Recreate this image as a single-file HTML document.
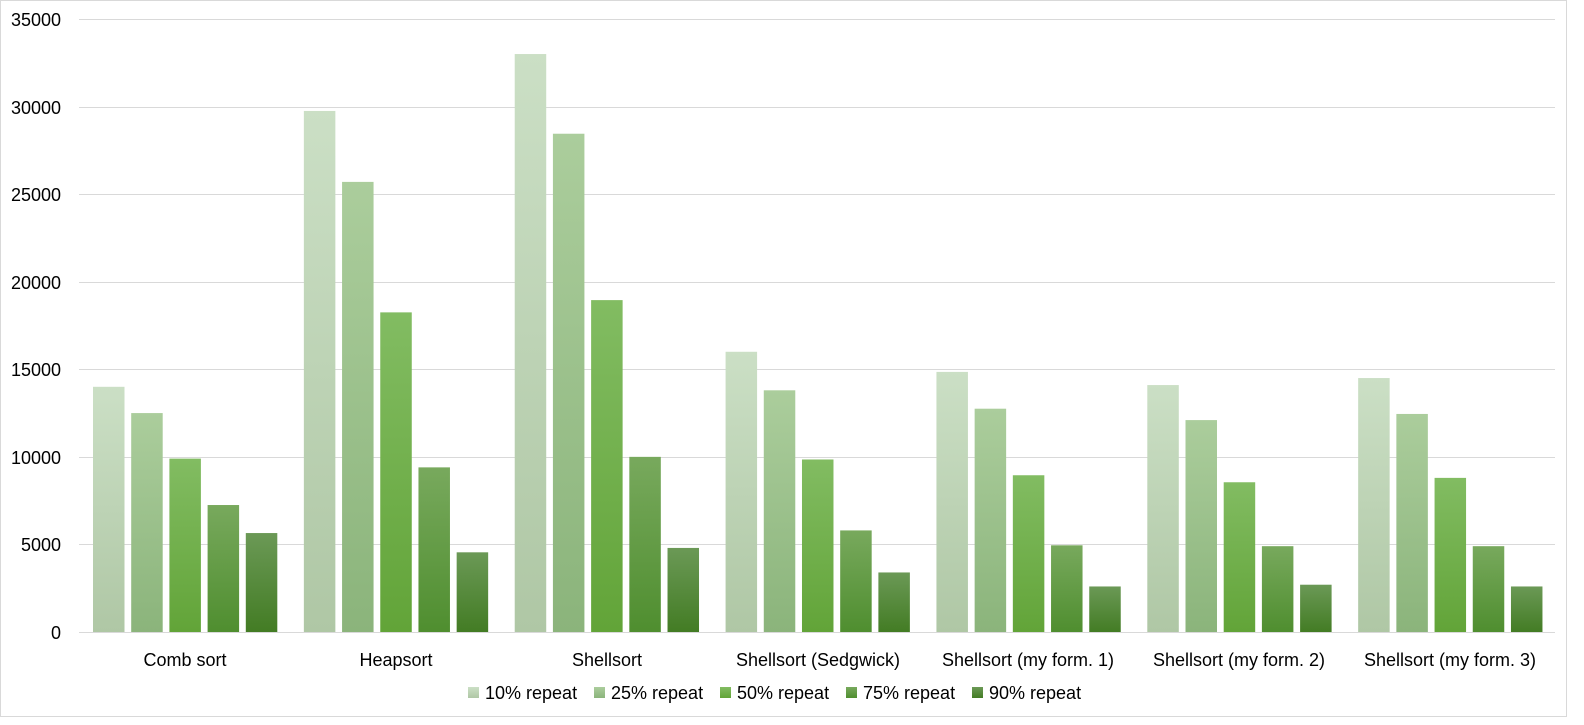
<!DOCTYPE html>
<html><head><meta charset="utf-8"><style>
html,body{margin:0;padding:0;background:#fff;overflow:hidden;}
svg{display:block;font-family:"Liberation Sans",sans-serif;}
</style></head><body>
<svg width="1584" height="725" viewBox="0 0 1584 725" xmlns="http://www.w3.org/2000/svg">
<defs>
<linearGradient id="g0" x1="0" y1="0" x2="0" y2="1"><stop offset="0" stop-color="#cbdfc5"/><stop offset="1" stop-color="#afc7a5"/></linearGradient>
<linearGradient id="g1" x1="0" y1="0" x2="0" y2="1"><stop offset="0" stop-color="#abcd9c"/><stop offset="1" stop-color="#8bb47b"/></linearGradient>
<linearGradient id="g2" x1="0" y1="0" x2="0" y2="1"><stop offset="0" stop-color="#82bc62"/><stop offset="1" stop-color="#62a438"/></linearGradient>
<linearGradient id="g3" x1="0" y1="0" x2="0" y2="1"><stop offset="0" stop-color="#78a95d"/><stop offset="1" stop-color="#4f8e2f"/></linearGradient>
<linearGradient id="g4" x1="0" y1="0" x2="0" y2="1"><stop offset="0" stop-color="#6b9956"/><stop offset="1" stop-color="#437c24"/></linearGradient>
</defs>
<rect x="0.5" y="0.5" width="1566" height="716" fill="#fff" stroke="#d9d9d9"/>
<g stroke="#d9d9d9" stroke-width="1">
<line x1="79" x2="1555" y1="19.5" y2="19.5"/><line x1="79" x2="1555" y1="107.5" y2="107.5"/>
<line x1="79" x2="1555" y1="194.5" y2="194.5"/><line x1="79" x2="1555" y1="282.5" y2="282.5"/>
<line x1="79" x2="1555" y1="369.5" y2="369.5"/><line x1="79" x2="1555" y1="457.5" y2="457.5"/>
<line x1="79" x2="1555" y1="544.5" y2="544.5"/><line x1="79" x2="1555" y1="632.5" y2="632.5"/>
</g>
<g font-size="18" fill="#000" text-anchor="end">
<text x="61" y="26">35000</text><text x="61" y="114">30000</text><text x="61" y="201">25000</text>
<text x="61" y="289">20000</text><text x="61" y="376">15000</text><text x="61" y="464">10000</text>
<text x="61" y="551">5000</text><text x="61" y="639">0</text>
</g>
<g id="bars"></g>
<g font-size="18" fill="#000" text-anchor="middle">
<text x="185" y="666">Comb sort</text><text x="396" y="666">Heapsort</text><text x="607" y="666">Shellsort</text>
<text x="818" y="666">Shellsort (Sedgwick)</text><text x="1028" y="666">Shellsort (my form. 1)</text>
<text x="1239" y="666">Shellsort (my form. 2)</text><text x="1450" y="666">Shellsort (my form. 3)</text>
</g>
<g font-size="18" fill="#000">
<rect x="468" y="687" width="11" height="11" fill="url(#g0)"/><text x="485" y="699">10% repeat</text>
<rect x="594" y="687" width="11" height="11" fill="url(#g1)"/><text x="611" y="699">25% repeat</text>
<rect x="720" y="687" width="11" height="11" fill="url(#g2)"/><text x="737" y="699">50% repeat</text>
<rect x="846" y="687" width="11" height="11" fill="url(#g3)"/><text x="863" y="699">75% repeat</text>
<rect x="972" y="687" width="11" height="11" fill="url(#g4)"/><text x="989" y="699">90% repeat</text>
</g>
</svg>
<script>
var d=[[14000,12500,9900,7250,5650],[29750,25700,18250,9400,4550],[33000,28450,18950,10000,4800],[16000,13800,9850,5800,3400],[14850,12750,8950,4950,2600],[14100,12100,8550,4900,2700],[14500,12450,8800,4900,2600]];
var g=document.getElementById('bars'),ns='http://www.w3.org/2000/svg';
for(var c=0;c<7;c++)for(var s=0;s<5;s++){var h=d[c][s]/5000*87.57;var r=document.createElementNS(ns,'rect');
r.setAttribute('x',79+c*210.86+14+s*38.2);r.setAttribute('y',632-h);r.setAttribute('width',31.5);r.setAttribute('height',h);
r.setAttribute('fill','url(#g'+s+')');g.appendChild(r);}
</script>
</body></html>
